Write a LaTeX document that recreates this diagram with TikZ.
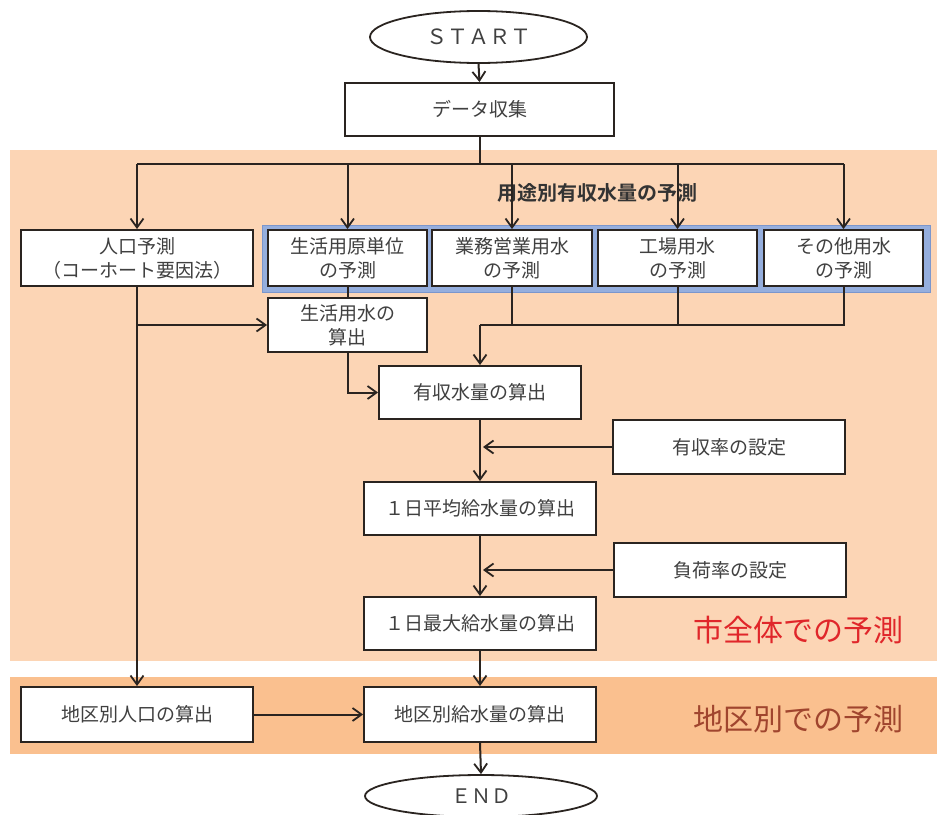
\documentclass[tikz,border=0pt]{standalone}
\usepackage{fontspec}
\setmainfont{Noto Sans CJK JP}
\newfontfamily\jp{Noto Sans CJK JP}
\newfontfamily\jpb{Noto Sans CJK JP Bold}
\usetikzlibrary{arrows.meta,shapes.geometric}
\definecolor{peach}{HTML}{FCD5B5}
\definecolor{band}{HTML}{FAC08F}
\definecolor{grpblue}{HTML}{95AEDD}
\definecolor{grpedge}{HTML}{7B96CC}
\definecolor{ln}{HTML}{2A2420}
\definecolor{txt}{HTML}{404040}
\definecolor{redt}{HTML}{E0262A}
\definecolor{brownt}{HTML}{A0452E}
\tikzset{
  flowbox/.style={draw=ln, line width=1.9pt, fill=white, inner sep=0pt, align=center,
    font=\jp\fontsize{19}{24}\selectfont, text=txt},
  term/.style={ellipse, draw=ln, line width=1.8pt, fill=white, inner sep=0pt,
    font=\jp\fontsize{21}{24}\selectfont, text=txt},
  conn/.style={draw=ln, line width=2pt},
  arr/.style={conn, -{Straight Barb[length=9pt,width=13pt,line width=1.8pt]}},
}
\begin{document}
\begin{tikzpicture}[x=1pt,y=-1pt]
\clip (0,0) rectangle (937,814);
\fill[white] (0,0) rectangle (937,814);
% cut-off text at top
\node[anchor=base west, inner sep=0pt, font=\jp\fontsize{23}{24}\selectfont, text=txt] (toptext) at (6,-1.5) {予測を行っています。};
% backgrounds
\fill[peach] (10,150) rectangle (937,661);
\fill[band] (10,677) rectangle (937,754);
\filldraw[fill=grpblue, draw=grpedge, line width=0.8pt] (262,225) rectangle (930,292);
% nodes
\node[term, minimum width=217pt, minimum height=52pt] (start) at (478.5,37) {ＳＴＡＲＴ};
\node[flowbox, minimum width=269pt, minimum height=53pt] (data) at (479.5,109.5) {データ収集};
\node[flowbox, minimum width=232pt, minimum height=56pt] (pop) at (137,258) {人口予測\\（コーホート要因法）};
\node[flowbox, minimum width=159pt, minimum height=56pt] (unit) at (347.5,258) {生活用原単位\\の予測};
\node[flowbox, minimum width=160pt, minimum height=56pt] (biz) at (512,258) {業務営業用水\\の予測};
\node[flowbox, minimum width=159pt, minimum height=56pt] (fac) at (677.5,258) {工場用水\\の予測};
\node[flowbox, minimum width=159pt, minimum height=56pt] (oth) at (843.5,258) {その他用水\\の予測};
\node[flowbox, minimum width=159pt, minimum height=54pt] (life) at (347.5,325) {生活用水の\\算出};
\node[flowbox, minimum width=202pt, minimum height=53pt] (rev) at (480,392.5) {有収水量の算出};
\node[flowbox, minimum width=232pt, minimum height=54pt] (rate) at (729,447) {有収率の設定};
\node[flowbox, minimum width=232pt, minimum height=53pt] (avg) at (480,508.5) {１日平均給水量の算出};
\node[flowbox, minimum width=232pt, minimum height=54pt] (load) at (730,570) {負荷率の設定};
\node[flowbox, minimum width=232pt, minimum height=53pt] (max) at (480,623.5) {１日最大給水量の算出};
\node[flowbox, minimum width=232pt, minimum height=55pt] (dpop) at (137,714.5) {地区別人口の算出};
\node[flowbox, minimum width=232pt, minimum height=55pt] (dsup) at (480,714.5) {地区別給水量の算出};
\node[term, minimum width=232pt, minimum height=42pt, font=\jp\fontsize{20}{24}\selectfont] (end) at (481,796) {ＥＮＤ};
% labels
\node[font=\jpb\fontsize{20}{24}\selectfont, text=black!80, inner sep=0pt] (grplabel) at (597,193) {用途別有収水量の予測};
\node[font=\jp\fontsize{30}{32}\selectfont, text=redt, inner sep=0pt] (cityl) at (798,630) {市全体での予測};
\node[font=\jp\fontsize{30}{32}\selectfont, text=brownt, inner sep=0pt] (distl) at (798,719) {地区別での予測};
% connectors
\draw[arr] (start.south) -- (data.north);
\coordinate (bus) at (479.5,164);
\draw[conn] (data.south) -- (bus);
\draw[conn] (pop.north |- bus) -- (oth.north |- bus);
\foreach \n in {pop,unit,biz,fac,oth} {\draw[arr] (\n.north |- bus) -- (\n.north);}
\draw[conn] (unit.south) -- (life.north);
\coordinate (merge) at (480,325);
\draw[conn] (biz.south) -- (biz.south |- merge);
\draw[conn] (fac.south) -- (fac.south |- merge);
\draw[conn] (oth.south) -- (oth.south |- merge) -- (merge);
\draw[arr] (merge) -- (rev.north);
\draw[arr] (life.south) |- (rev.west);
\draw[arr] (pop.south) -- (dpop.north);
\draw[arr] (pop.south |- life.west) -- (life.west);
\draw[arr] (rev.south) -- (avg.north);
\draw[arr, shorten >=3pt] (rate.west) -- (rate.west -| rev.south);
\draw[arr] (avg.south) -- (max.north);
\draw[arr, shorten >=3pt] (load.west) -- (load.west -| avg.south);
\draw[arr] (max.south) -- (dsup.north);
\draw[arr] (dpop.east) -- (dsup.west);
\draw[arr] (dsup.south) -- (end.north);
\end{tikzpicture}
\end{document}
